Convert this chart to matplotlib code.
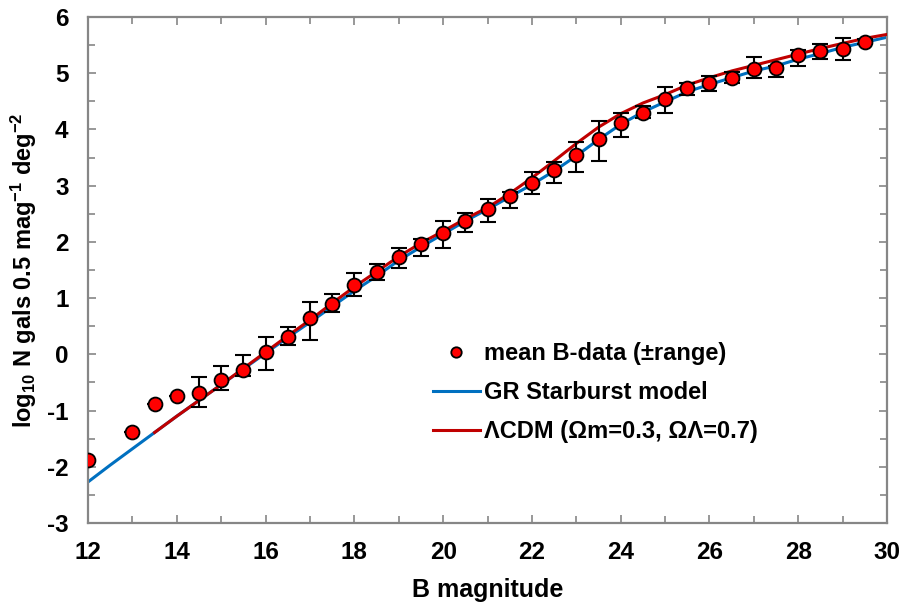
import numpy as np
import matplotlib
matplotlib.use('Agg')
import matplotlib.pyplot as plt
from matplotlib.ticker import MultipleLocator

plt.rcParams['font.family'] = ['Liberation Sans', 'DejaVu Sans']
plt.rcParams['font.weight'] = 'bold'
plt.rcParams['axes.unicode_minus'] = False
plt.rcParams['mathtext.fontset'] = 'custom'
plt.rcParams['mathtext.rm'] = 'Liberation Sans:bold'
plt.rcParams['mathtext.bf'] = 'Liberation Sans:bold'
plt.rcParams['mathtext.it'] = 'Liberation Sans:bold'

# mean B-band counts, with the low/high ends of the range
mag = [12, 13, 13.5, 14, 14.5, 15, 15.5, 16, 16.5, 17, 17.5, 18, 18.5, 19, 19.5, 20,
       20.5, 21, 21.5, 22, 22.5, 23, 23.5, 24, 24.5, 25, 25.5, 26, 26.5, 27, 27.5,
       28, 28.5, 29, 29.5]
logN = [-1.88, -1.38, -0.88, -0.75, -0.68, -0.46, -0.27, 0.04, 0.31, 0.64, 0.89, 1.23,
        1.47, 1.74, 1.96, 2.15, 2.37, 2.58, 2.81, 3.04, 3.27, 3.55, 3.83, 4.12, 4.30,
        4.54, 4.73, 4.82, 4.92, 5.08, 5.09, 5.32, 5.40, 5.43, 5.56]
low = [-1.88, -1.38, -0.88, -0.75, -0.94, -0.64, -0.39, -0.27, 0.17, 0.25, 0.75, 1.04,
       1.33, 1.53, 1.75, 1.90, 2.18, 2.36, 2.60, 2.85, 3.05, 3.24, 3.44, 3.86, 4.20,
       4.30, 4.61, 4.69, 4.82, 4.91, 4.94, 5.13, 5.26, 5.24, 5.52]
high = [-1.88, -1.38, -0.88, -0.75, -0.40, -0.21, -0.02, 0.31, 0.49, 0.93, 1.08, 1.44,
        1.61, 1.89, 2.05, 2.37, 2.52, 2.76, 2.88, 3.24, 3.42, 3.78, 4.15, 4.30, 4.42,
        4.75, 4.82, 4.95, 5.02, 5.29, 5.13, 5.41, 5.52, 5.62, 5.60]

# model curves
gr_mag = [12, 12.5, 13, 13.5, 14, 14.5, 15, 15.5, 16, 16.5, 17, 17.5, 18, 18.5, 19, 19.5,
          20, 20.5, 21, 21.5, 22, 22.5, 23, 23.5, 24, 24.5, 25, 25.5, 26, 26.5, 27, 27.5,
          28, 28.5, 29, 29.5, 30]
gr_logN = [-2.27, -1.97, -1.68, -1.39, -1.10, -0.82, -0.54, -0.26, 0.02, 0.30, 0.57, 0.85,
           1.13, 1.39, 1.67, 1.91, 2.14, 2.37, 2.58, 2.80, 3.02, 3.26, 3.53, 3.82, 4.09,
           4.31, 4.49, 4.67, 4.80, 4.92, 5.04, 5.13, 5.25, 5.35, 5.46, 5.55, 5.64]
lcdm_mag = [13.5, 14, 14.5, 15, 15.5, 16, 16.5, 17, 17.5, 18, 18.5, 19, 19.5, 20, 20.5,
            21, 21.5, 22, 22.5, 23, 23.5, 24, 24.5, 25, 25.5, 26, 26.5, 27, 27.5, 28,
            28.5, 29, 29.5, 30]
lcdm_logN = [-1.39, -1.10, -0.82, -0.54, -0.25, 0.04, 0.33, 0.61, 0.91, 1.20, 1.47, 1.74,
             1.98, 2.19, 2.41, 2.61, 2.86, 3.14, 3.44, 3.75, 4.04, 4.28, 4.47, 4.62, 4.79,
             4.92, 5.04, 5.14, 5.24, 5.34, 5.44, 5.53, 5.62, 5.69]

fig = plt.figure(figsize=(9.02, 6.03), dpi=100)
ax = fig.add_axes([0.0976, 0.1327, 0.8858, 0.8391])

ax.plot(gr_mag, gr_logN, color='#0070C0', lw=2.2, label='GR Starburst model', zorder=2)
ax.plot(lcdm_mag, lcdm_logN, color='#C00000', lw=2.2,
        label='ΛCDM (Ωm=0.3, ΩΛ=0.7)', zorder=3)

y = np.array(logN)
yerr = [y - np.array(low), np.array(high) - y]
ax.errorbar(mag, y, yerr=yerr, fmt='none', ecolor='black', elinewidth=1.5,
            capsize=5.5, capthick=1.5, zorder=4)
ax.plot(mag, logN, 'o', color='#FF0000', mec='black', mew=1.3, ms=10, zorder=5,
        label='mean B-data (±range)')

ax.set_xlim(12, 30)
ax.set_ylim(-3, 6)
ax.xaxis.set_major_locator(MultipleLocator(2))
ax.xaxis.set_minor_locator(MultipleLocator(1))
ax.yaxis.set_major_locator(MultipleLocator(1))
ax.yaxis.set_minor_locator(MultipleLocator(0.5))
ax.tick_params(which='both', direction='in', top=True, right=True, color='#868686',
               width=1.2, labelsize=17.5)
ax.tick_params(axis='x', pad=13)
ax.tick_params(axis='y', pad=14)
ax.tick_params(which='major', length=6)
ax.tick_params(which='minor', length=5)
for s in ax.spines.values():
    s.set_color('#868686')
    s.set_linewidth(1.6)

ax.set_xlabel('B magnitude', fontsize=18, fontweight='bold', labelpad=10)
ax.set_ylabel(r'log$_{10}$ N gals 0.5 mag$^{−1}$ deg$^{−2}$', fontsize=17,
              fontweight='bold', labelpad=6)

h, l = ax.get_legend_handles_labels()
order = [2, 0, 1]
ax.legend([h[i] for i in order], [l[i] for i in order], loc='upper left',
          bbox_to_anchor=(0.405, 0.40), frameon=False, fontsize=17,
          handlelength=2.0, handletextpad=0.15, labelspacing=0.68, markerscale=0.75)

fig.savefig('out.png', dpi=100)
